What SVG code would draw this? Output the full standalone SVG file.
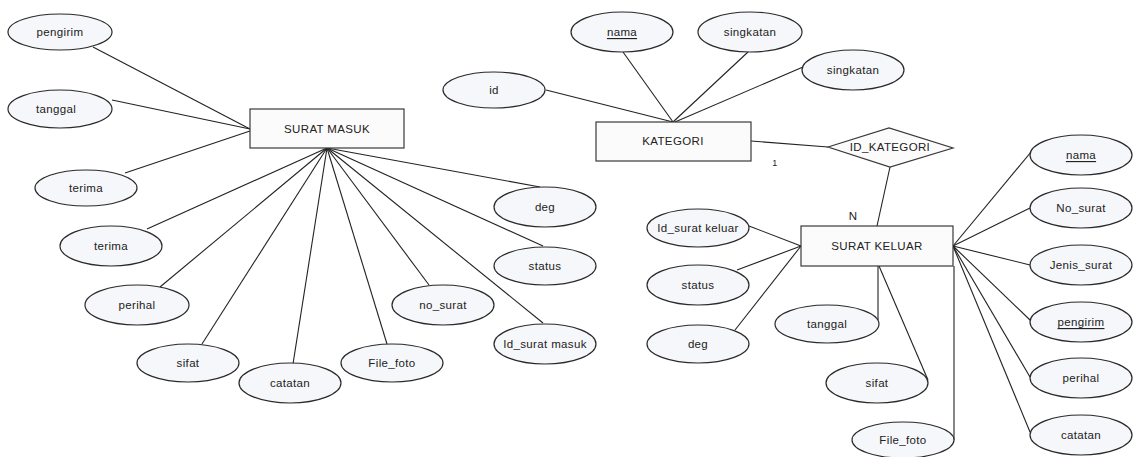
<svg xmlns="http://www.w3.org/2000/svg" width="1139" height="457" viewBox="0 0 1139 457">
<style>
.e{fill:#f6f7fa;stroke:#2a2a2a;stroke-width:1.2}
.r{fill:#fbfbfb;stroke:#3a3a3a;stroke-width:1.2}
.t{font-family:"Liberation Sans",Arial,sans-serif;font-size:11.5px;letter-spacing:0.35px;fill:#222;text-anchor:middle;dominant-baseline:central}
.u{text-decoration:underline}
.c line{stroke:#222;stroke-width:1.1}
</style>
<rect width="1139" height="457" fill="#fff"/>
<g class="c" id="connectors">
<line x1="93" y1="47" x2="250" y2="129"/>
<line x1="112" y1="100" x2="250" y2="129"/>
<line x1="125" y1="173" x2="250" y2="131"/>
<line x1="327" y1="148" x2="147" y2="229"/>
<line x1="327" y1="148" x2="160" y2="287"/>
<line x1="327" y1="148" x2="202" y2="344"/>
<line x1="327" y1="148" x2="293" y2="364"/>
<line x1="327" y1="148" x2="387" y2="344"/>
<line x1="327" y1="148" x2="429" y2="285"/>
<line x1="327" y1="148" x2="543" y2="323"/>
<line x1="327" y1="148" x2="543" y2="246"/>
<line x1="327" y1="148" x2="540" y2="187"/>
<line x1="546" y1="90" x2="673" y2="122"/>
<line x1="623" y1="52" x2="673" y2="122"/>
<line x1="748" y1="52" x2="673" y2="122"/>
<line x1="803" y1="67" x2="675" y2="122"/>
<line x1="751" y1="141" x2="828" y2="147"/>
<line x1="890" y1="167" x2="877" y2="226"/>
<line x1="749" y1="226" x2="801" y2="246"/>
<line x1="737" y1="270" x2="801" y2="246"/>
<line x1="735" y1="330" x2="801" y2="246"/>
<line x1="878" y1="266" x2="878" y2="320"/>
<line x1="879" y1="266" x2="928" y2="380"/>
<line x1="954" y1="266" x2="954" y2="440"/>
<line x1="953" y1="246" x2="1036" y2="146"/>
<line x1="953" y1="246" x2="1030" y2="208"/>
<line x1="953" y1="246" x2="1030" y2="265"/>
<line x1="953" y1="246" x2="1030" y2="320"/>
<line x1="953" y1="246" x2="1030" y2="377"/>
<line x1="953" y1="246" x2="1030" y2="432"/>
<text class="t" x="775" y="163" style="font-size:9px">1</text>
<text class="t" x="853" y="216">N</text>
</g>
<g id="surat_masuk"><rect class="r" x="250" y="109" width="154" height="39"/><text class="t" x="327" y="129">SURAT MASUK</text></g>
<g id="sm_pengirim"><ellipse class="e" cx="60" cy="32" rx="52" ry="18"/><text class="t" x="60" y="32">pengirim</text></g>
<g id="sm_tanggal"><ellipse class="e" cx="60" cy="109" rx="52" ry="19"/><text class="t" x="56" y="109">tanggal</text></g>
<g id="sm_terima1"><ellipse class="e" cx="86" cy="188" rx="51" ry="18"/><text class="t" x="86" y="188">terima</text></g>
<g id="sm_terima2"><ellipse class="e" cx="111" cy="246" rx="51" ry="20"/><text class="t" x="111" y="246">terima</text></g>
<g id="sm_perihal"><ellipse class="e" cx="137" cy="305" rx="52" ry="20"/><text class="t" x="137" y="305">perihal</text></g>
<g id="sm_sifat"><ellipse class="e" cx="188" cy="363" rx="51" ry="19"/><text class="t" x="188" y="363">sifat</text></g>
<g id="sm_catatan"><ellipse class="e" cx="290" cy="383" rx="51" ry="20"/><text class="t" x="290" y="383">catatan</text></g>
<g id="sm_file_foto"><ellipse class="e" cx="392" cy="363" rx="51" ry="19"/><text class="t" x="392" y="363">File_foto</text></g>
<g id="sm_no_surat"><ellipse class="e" cx="443" cy="305" rx="51" ry="20"/><text class="t" x="443" y="305">no_surat</text></g>
<g id="sm_id_surat_masuk"><ellipse class="e" cx="545" cy="344" rx="51" ry="20"/><text class="t" x="545" y="344">Id_surat masuk</text></g>
<g id="sm_status"><ellipse class="e" cx="545" cy="266" rx="51" ry="19"/><text class="t" x="545" y="266">status</text></g>
<g id="sm_deg"><ellipse class="e" cx="545" cy="207" rx="51" ry="20"/><text class="t" x="545" y="207">deg</text></g>
<g id="kategori"><rect class="r" x="596" y="122" width="155" height="39"/><text class="t" x="673" y="141">KATEGORI</text></g>
<g id="k_id"><ellipse class="e" cx="494" cy="90" rx="51" ry="18"/><text class="t" x="494" y="90">id</text></g>
<g id="k_nama"><ellipse class="e" cx="622" cy="32" rx="51" ry="20"/><text class="t u" x="622" y="32">nama</text></g>
<g id="k_singkatan1"><ellipse class="e" cx="750" cy="32" rx="52" ry="20"/><text class="t" x="750" y="32">singkatan</text></g>
<g id="k_singkatan2"><ellipse class="e" cx="853" cy="70" rx="51" ry="20"/><text class="t" x="853" y="70">singkatan</text></g>
<g id="id_kategori"><polygon class="r" points="828,147 889,128 953,148 890,167"/><text class="t" x="890" y="147">ID_KATEGORI</text></g>
<g id="surat_keluar"><rect class="r" x="801" y="226" width="152" height="40"/><text class="t" x="877" y="246">SURAT KELUAR</text></g>
<g id="sk_id_surat_keluar"><ellipse class="e" cx="698" cy="228" rx="51" ry="19"/><text class="t" x="698" y="228">Id_surat keluar</text></g>
<g id="sk_status"><ellipse class="e" cx="698" cy="285" rx="51" ry="20"/><text class="t" x="698" y="285">status</text></g>
<g id="sk_deg"><ellipse class="e" cx="698" cy="344" rx="51" ry="19"/><text class="t" x="698" y="344">deg</text></g>
<g id="sk_tanggal"><ellipse class="e" cx="827" cy="324" rx="52" ry="19"/><text class="t" x="827" y="324">tanggal</text></g>
<g id="sk_sifat"><ellipse class="e" cx="877" cy="383" rx="51" ry="20"/><text class="t" x="877" y="383">sifat</text></g>
<g id="sk_file_foto"><ellipse class="e" cx="903" cy="440" rx="51" ry="18"/><text class="t" x="903" y="440">File_foto</text></g>
<g id="sk_nama"><ellipse class="e" cx="1081" cy="155" rx="51" ry="20"/><text class="t u" x="1081" y="155">nama</text></g>
<g id="sk_no_surat"><ellipse class="e" cx="1081" cy="208" rx="51" ry="20"/><text class="t" x="1081" y="208">No_surat</text></g>
<g id="sk_jenis_surat"><ellipse class="e" cx="1081" cy="265" rx="51" ry="20"/><text class="t" x="1081" y="265">Jenis_surat</text></g>
<g id="sk_pengirim"><ellipse class="e" cx="1081" cy="322" rx="51" ry="20"/><text class="t u" x="1081" y="322">pengirim</text></g>
<g id="sk_perihal"><ellipse class="e" cx="1081" cy="378" rx="51" ry="20"/><text class="t" x="1081" y="378">perihal</text></g>
<g id="sk_catatan"><ellipse class="e" cx="1081" cy="435" rx="51" ry="20"/><text class="t" x="1081" y="435">catatan</text></g>
</svg>
